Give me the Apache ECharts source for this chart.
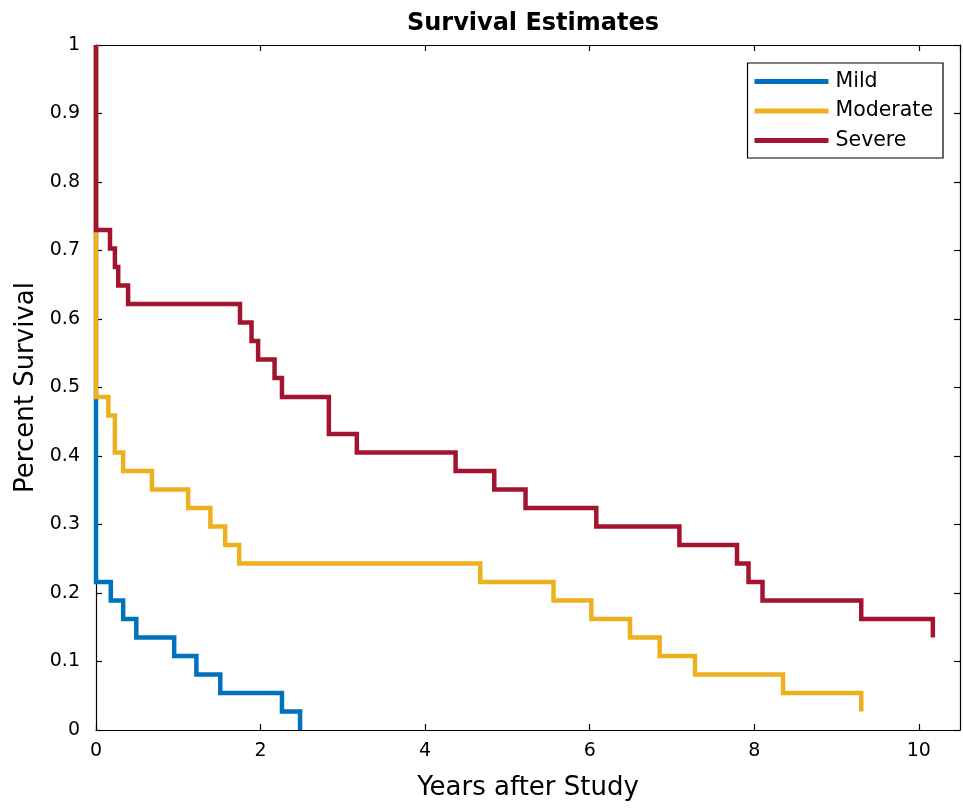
<!DOCTYPE html>
<html>
<head>
<meta charset="utf-8">
<script src="https://cdn.jsdelivr.net/npm/echarts@6/dist/echarts.min.js"></script>
<style>html,body{margin:0;padding:0;background:#fff}#c{width:963px;height:810px}</style>
</head>
<body>
<div id="c"></div>
<script>
// Series data (Kaplan-Meier step curves): times (years) and survival values
const seriesNames = ['Mild', 'Moderate', 'Severe'];
const mildX = [0, 0, 0.18, 0.33, 0.49, 0.95, 1.22, 1.51, 2.26, 2.48];
const mildY = [1, 0.216, 0.189, 0.162, 0.135, 0.108, 0.081, 0.054, 0.027, 0];
const moderateX = [0, 0, 0, 0.15, 0.23, 0.33, 0.68, 1.12, 1.39, 1.57, 1.74, 4.67, 5.56, 6.02, 6.49, 6.85, 7.28, 8.35, 9.30];
const moderateY = [1, 0.730, 0.486, 0.459, 0.405, 0.378, 0.351, 0.324, 0.297, 0.270, 0.243, 0.216, 0.189, 0.162, 0.135, 0.108, 0.081, 0.054, 0.027];
const severeX = [0, 0, 0.17, 0.23, 0.27, 0.39, 1.75, 1.89, 1.97, 2.17, 2.26, 2.83, 3.17, 4.37, 4.84, 5.22, 6.08, 7.09, 7.79, 7.93, 8.10, 9.30, 10.17];
const severeY = [1, 0.730, 0.703, 0.676, 0.649, 0.622, 0.595, 0.568, 0.541, 0.514, 0.486, 0.432, 0.405, 0.378, 0.351, 0.324, 0.297, 0.270, 0.243, 0.216, 0.189, 0.162, 0.135];
const xTicks = [0, 2, 4, 6, 8, 10];
const yTicks = [0, 0.1, 0.2, 0.3, 0.4, 0.5, 0.6, 0.7, 0.8, 0.9, 1];

const colors = ['#0072BD', '#EDB120', '#A2142F'];
const FONT = 'DejaVu Sans';
function pairs(xs, ys) { return xs.map((x, i) => [x, ys[i]]); }
const allData = [pairs(mildX, mildY), pairs(moderateX, moderateY), pairs(severeX, severeY)];

const chart = echarts.init(document.getElementById('c'), null, {renderer: 'canvas'});
const axisLineStyle = {color: '#000', width: 1.2};
chart.setOption({
  animation: false,
  backgroundColor: '#fff',
  textStyle: {fontFamily: FONT},
  title: {
    text: 'Survival Estimates',
    left: 528, top: 7, textAlign: 'center',
    textStyle: {fontFamily: FONT, fontSize: 24, fontWeight: 'bold', color: '#000'}
  },
  legend: {
    data: seriesNames,
    orient: 'vertical',
    right: 20, top: 63,
    padding: [8, 10, 7, 7],
    borderColor: '#000', borderWidth: 1.2,
    backgroundColor: '#fff',
    icon: 'rect', itemWidth: 74, itemHeight: 5, itemGap: 8.5,
    textStyle: {fontFamily: FONT, fontSize: 20.5, color: '#000', lineHeight: 20, padding: [0, 0, 0, 2]}
  },
  grid: {left: 96, right: 3, top: 45, bottom: 80, containLabel: false},
  xAxis: [{
    type: 'value', min: 0, max: 10.5, interval: 2,
    name: 'Years after Study', nameLocation: 'middle', nameGap: 45,
    nameTextStyle: {fontFamily: FONT, fontSize: 26, color: '#000'},
    axisLine: {show: true, lineStyle: axisLineStyle},
    axisTick: {show: true, inside: true, length: 6, lineStyle: axisLineStyle},
    axisLabel: {fontFamily: FONT, fontSize: 19, color: '#000', margin: 12, showMaxLabel: false,
      formatter: v => (xTicks.indexOf(v) >= 0 ? String(v) : '')},
    splitLine: {show: false}
  }, {
    type: 'value', position: 'top', min: 0, max: 10.5, interval: 2,
    axisLine: {show: true, onZero: false, lineStyle: axisLineStyle},
    axisTick: {show: true, inside: true, length: 6, lineStyle: axisLineStyle},
    axisLabel: {show: false}, splitLine: {show: false}
  }],
  yAxis: [{
    type: 'value', min: 0, max: 1, interval: 0.1,
    name: 'Percent Survival', nameLocation: 'middle', nameGap: 57, nameRotate: 90,
    nameTextStyle: {fontFamily: FONT, fontSize: 26, color: '#000'},
    axisLine: {show: true, lineStyle: axisLineStyle},
    axisTick: {show: true, inside: true, length: 6, lineStyle: axisLineStyle},
    axisLabel: {fontFamily: FONT, fontSize: 19, color: '#000', margin: 16,
      formatter: v => { const t = yTicks.find(k => Math.abs(k - v) < 1e-9); return t === undefined ? '' : String(t); }},
    splitLine: {show: false}
  }, {
    type: 'value', position: 'right', min: 0, max: 1, interval: 0.1,
    axisLine: {show: true, onZero: false, lineStyle: axisLineStyle},
    axisTick: {show: true, inside: true, length: 6, lineStyle: axisLineStyle},
    axisLabel: {show: false}, splitLine: {show: false}
  }],
  series: seriesNames.map((n, i) => ({
    name: n, type: 'line', step: 'end', data: allData[i],
    showSymbol: false, symbol: 'none',
    lineStyle: {color: colors[i], width: 4.5, cap: 'butt', join: 'miter'},
    itemStyle: {color: colors[i]},
    z: 2 + i
  }))
});
</script>
</body>
</html>
